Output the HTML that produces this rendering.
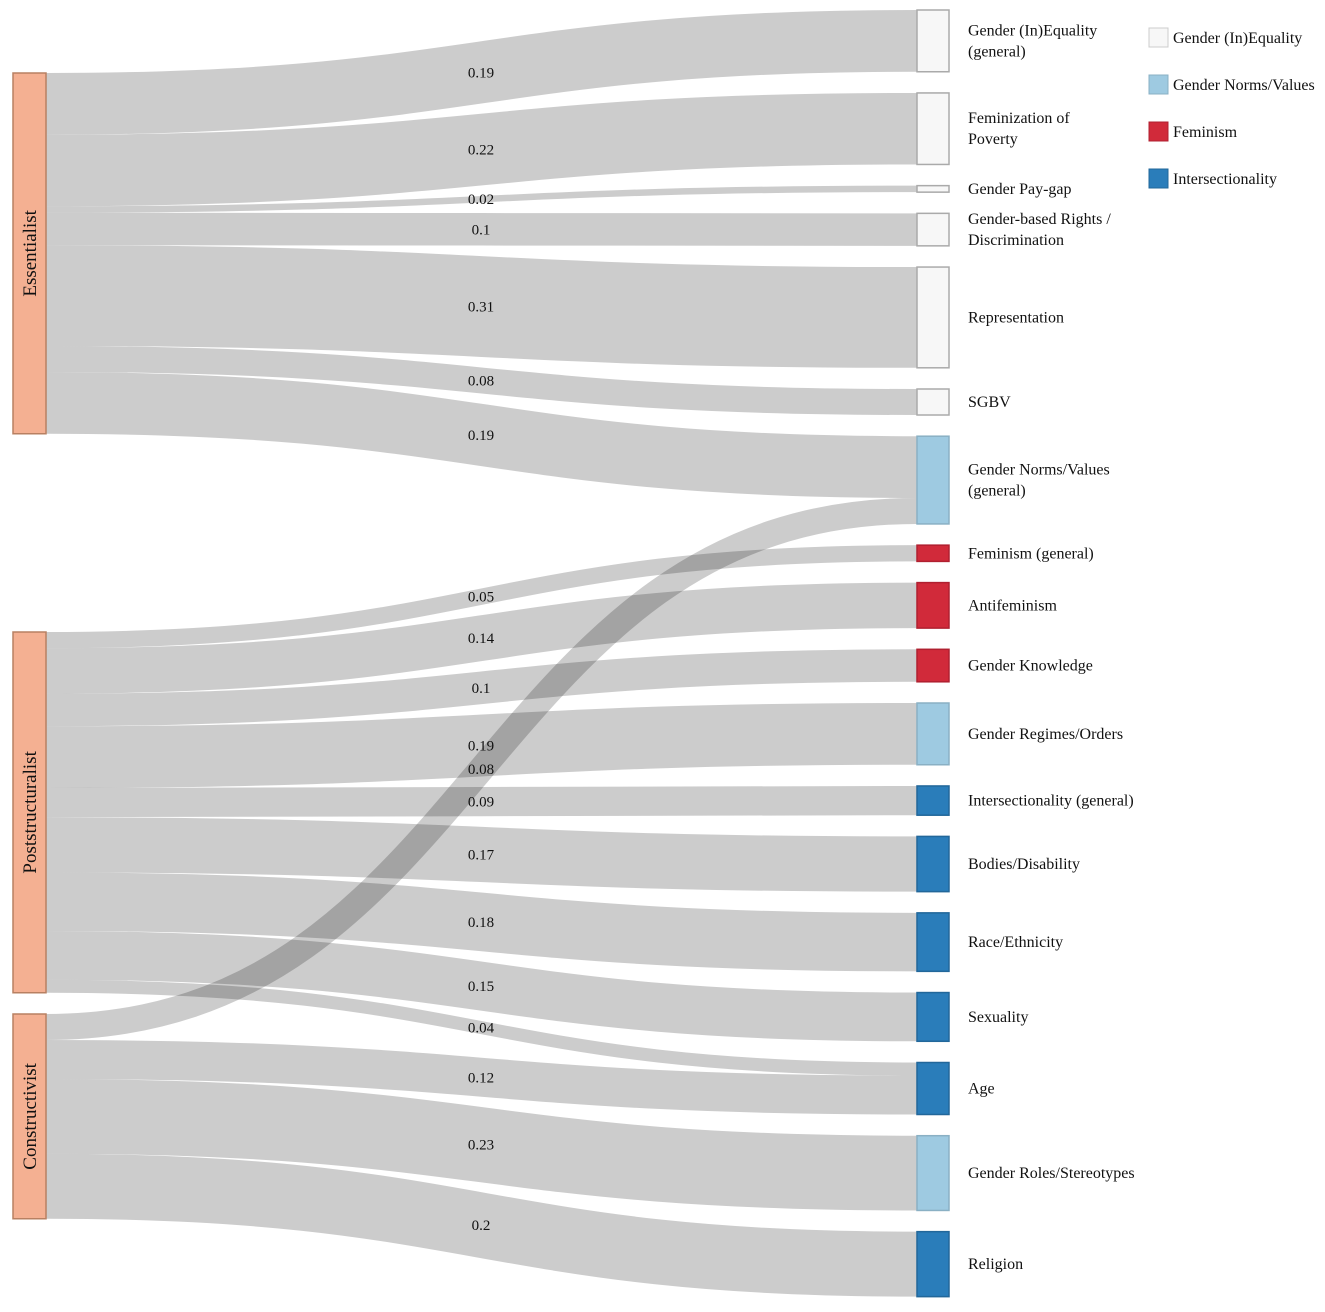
<!DOCTYPE html>
<html><head><meta charset="utf-8"><style>
body{margin:0;background:#fff}
svg text{font-family:"Liberation Serif",serif;fill:#111}
</style></head><body>
<svg id="chart" width="1325" height="1307" viewBox="0 0 1325 1307" xmlns="http://www.w3.org/2000/svg">
<g id="links"></g>
<g id="nodes"></g>
<g id="legend"></g>
</svg>
<script>
const sources = ["Essentialist","Poststructuralist","Constructivist"];
const sourceTops = [73, 632, 1014];
const targets = ["Gender (In)Equality|(general)","Feminization of|Poverty","Gender Pay-gap","Gender-based Rights /|Discrimination","Representation","SGBV","Gender Norms/Values|(general)","Feminism (general)","Antifeminism","Gender Knowledge","Gender Regimes/Orders","Intersectionality (general)","Bodies/Disability","Race/Ethnicity","Sexuality","Age","Gender Roles/Stereotypes","Religion"];
const targetGroup = [0,0,0,0,0,0,1,2,2,2,1,3,3,3,3,3,1,3];
const groups = ["Gender (In)Equality","Gender Norms/Values","Feminism","Intersectionality"];
const groupFill = ["#f7f7f7","#9ecae1","#d12a3a","#2a7dba"];
const groupStroke = ["#aaaaaa","#8ab0c4","#b02030","#22679a"];
const linkSource = [0,0,0,0,0,0,0, 1,1,1,1,1,1,1,1,1, 2,2,2,2];
const linkTarget = [0,1,2,3,4,5,6, 7,8,9,10,11,12,13,14,15, 6,15,16,17];
const linkValue  = [0.19,0.22,0.02,0.1,0.31,0.08,0.19, 0.05,0.14,0.1,0.19,0.09,0.17,0.18,0.15,0.04, 0.08,0.12,0.23,0.2];

const NS="http://www.w3.org/2000/svg";
const K=325, TOP=10, GAP=21.2, X0=13, X1=46, XT0=917, XT1=949;
function mk(tag,attrs,parent){const e=document.createElementNS(NS,tag);for(const k in attrs)e.setAttribute(k,attrs[k]);parent.appendChild(e);return e;}
const tVal=targets.map(()=>0);
linkValue.forEach((v,i)=>tVal[linkTarget[i]]+=v);
const tTop=[];let y=TOP;
tVal.forEach((v,i)=>{tTop.push(y);y+=v*K+GAP;});
const sVal=sources.map(()=>0);
linkValue.forEach((v,i)=>sVal[linkSource[i]]+=v);
const sOff=sourceTops.slice(), tOff=tTop.slice();
const linksG=document.getElementById('links'), nodesG=document.getElementById('nodes'), legG=document.getElementById('legend');
const labels=[];
linkValue.forEach((v,i)=>{
  const s=linkSource[i],t=linkTarget[i],h=v*K;
  const y0=sOff[s]+h/2, y1=tOff[t]+h/2; sOff[s]+=h; tOff[t]+=h;
  const xm=(X1+XT0)/2;
  const p=mk('path',{d:`M${X1},${y0}C${xm},${y0} ${xm},${y1} ${XT0},${y1}`,fill:'none',stroke:'rgba(0,0,0,0.2)','stroke-width':h},linksG);
  
  
  labels.push([v,(y0+y1)/2]);
});
labels.forEach(([v,yy],i)=>{
  const tx=mk('text',{x:481,y:yy+5,'text-anchor':'middle','font-size':15},linksG);
  tx.textContent=String(v);
  
  
});
sources.forEach((s,i)=>{
  const h=sVal[i]*K, y0=sourceTops[i];
  const r=mk('rect',{x:X0,y:y0,width:X1-X0,height:h,fill:'#f4b092',stroke:'#b88062','stroke-width':1.5},nodesG);
  
  
  const cy=y0+h/2;
  const t=mk('text',{x:0,y:0,'text-anchor':'middle','font-size':19,transform:`translate(36,${cy}) rotate(-90)`},nodesG);
  t.textContent=s;
  
  
});
targets.forEach((name,i)=>{
  const h=tVal[i]*K, g=targetGroup[i];
  const r=mk('rect',{x:XT0,y:tTop[i],width:XT1-XT0,height:h,fill:groupFill[g],stroke:groupStroke[g],'stroke-width':1.5},nodesG);
  
  
  const lines=name.split('|'), cy=tTop[i]+h/2;
  lines.forEach((ln,j)=>{
    const t=mk('text',{x:968,y:cy+5+(j-(lines.length-1)/2)*21,'font-size':16},nodesG);
    t.textContent=ln;
    
    
  });
});
groups.forEach((g,i)=>{
  const yy=28+i*47;
  const r=mk('rect',{x:1149,y:yy,width:19,height:19,fill:groupFill[i],stroke:i==0?'#ccc':groupStroke[i],'stroke-width':1},legG);
  
  
  const t=mk('text',{x:1173,y:yy+15,'font-size':16},legG);
  t.textContent=g;
  
  
});
</script>
</body></html>
